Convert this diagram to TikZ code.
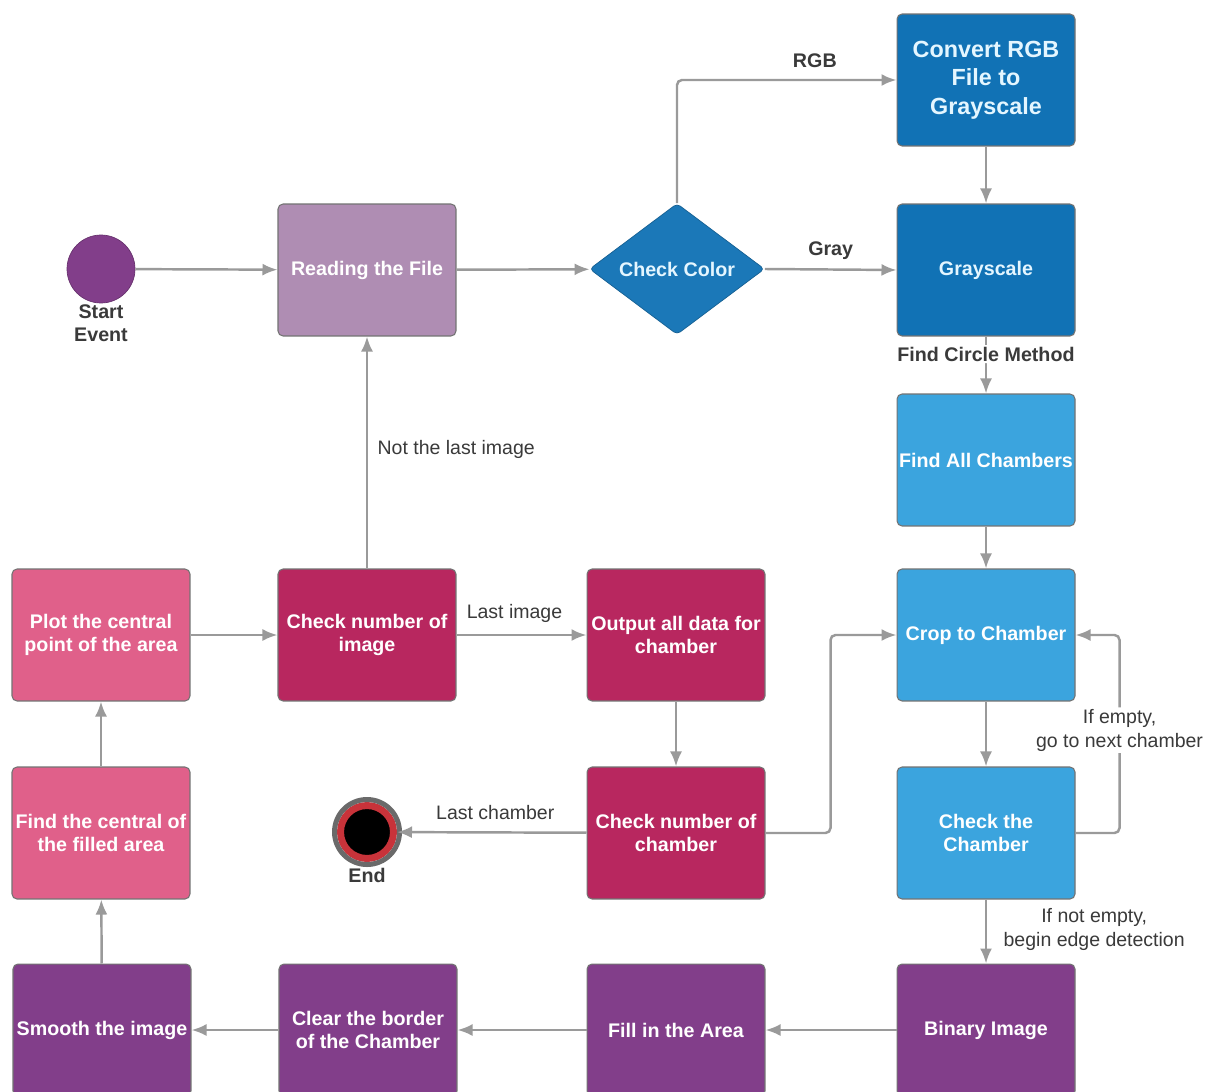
\documentclass[tikz,border=0pt]{standalone}
\usepackage{fontspec}
\setmainfont{Liberation Sans}
\usetikzlibrary{shapes.geometric,arrows.meta}
\definecolor{lilac}{HTML}{AF8DB3}
\definecolor{deepblue}{HTML}{1172B5}
\definecolor{midblue}{HTML}{1B78B8}
\definecolor{skyblue}{HTML}{3BA4DE}
\definecolor{berry}{HTML}{B8275F}
\definecolor{rose}{HTML}{E0608A}
\definecolor{plum}{HTML}{823E8A}
\definecolor{flowgray}{HTML}{9A9A9A}
\definecolor{labelgray}{HTML}{3A3A3A}
\definecolor{endred}{HTML}{C8333A}
\definecolor{ringgray}{HTML}{6A6A6A}
\definecolor{paletext}{HTML}{E4F6FF}
\tikzset{
  stepbox/.style={rectangle, rounded corners=0.1cm, draw=black!55, line width=0.6pt,
    minimum width=3.56cm, minimum height=2.64cm, inner sep=1pt, align=center,
    text=white, font=\fontsize{11.2}{13.4}\selectfont\bfseries},
  flow/.style={draw=flowgray, line width=1.4pt, -{Latex[length=0.3cm,width=0.24cm]}, rounded corners=0.1cm},
  edgelabel/.style={text=labelgray, font=\fontsize{11.1}{13.6}\selectfont, align=center},
  boldlabel/.style={text=labelgray, font=\fontsize{11.2}{13.4}\selectfont\bfseries, align=center},
}
\begin{document}
\begin{tikzpicture}[x=0.02cm,y=-0.02cm]
    \clip (0,0) rectangle (1219,1091);
    \fill[white] (0,0) rectangle (1219,1091);
    %% start and end events
    \node[circle, fill=plum, draw=plum!80!black, minimum size=1.36cm, inner sep=0pt] (start) at (101,269) {};
    \node[boldlabel] (starttext) at (101,323) {Start\\Event};
    \node[circle, fill=black, draw=endred, line width=0.14cm, minimum size=1.06cm, inner sep=0pt] (end) at (367,832) {};
    \draw[ringgray, line width=0.1cm] (end.center) circle (32.5);
    \node[boldlabel] (endtext) at (367,875) {End};
    %% top row
    \node[stepbox, fill=lilac] (read) at (367,270) {Reading the File};
    \node[diamond, fill=midblue, draw=midblue!80!black, rounded corners=0.08cm, minimum width=3.5cm, minimum height=2.62cm,
        inner sep=0pt, text=paletext, font=\fontsize{11.2}{13.4}\selectfont\bfseries] (color) at (677,269) {Check Color};
    \node[stepbox, fill=deepblue, text=paletext, font=\fontsize{13.3}{16.2}\selectfont\bfseries] (convert) at (986,80) {Convert RGB\\File to\\Grayscale};
    \node[stepbox, fill=deepblue, text=paletext] (gray) at (986,270) {Grayscale};
    %% right column
    \node[stepbox, fill=skyblue] (findall) at (986,460) {Find All Chambers};
    \node[stepbox, fill=skyblue] (crop) at (986,635) {Crop to Chamber};
    \node[stepbox, fill=skyblue] (checkch) at (986,833) {Check the\\Chamber};
    %% bottom row
    \node[stepbox, fill=plum] (binary) at (986,1030) {Binary Image};
    \node[stepbox, fill=plum] (fill) at (676,1030) {Fill in the Area};
    \node[stepbox, fill=plum] (clear) at (368,1030) {Clear the border\\of the Chamber};
    \node[stepbox, fill=plum] (smooth) at (102,1030) {Smooth the image};
    %% left and middle
    \node[stepbox, fill=rose] (findc) at (101,833) {Find the central of\\the filled area};
    \node[stepbox, fill=rose] (plot) at (101,635) {Plot the central\\point of the area};
    \node[stepbox, fill=berry] (checkimg) at (367,635) {Check number of\\image};
    \node[stepbox, fill=berry] (output) at (676,635) {Output all data for\\chamber};
    \node[stepbox, fill=berry] (checknum) at (676,833) {Check number of\\chamber};
    %% connectors
    \draw[flow] (start) -- (read);
    \draw[flow] (read) -- (color);
    \draw[flow] (color.north) |- (convert.west) node[boldlabel, pos=0.814, above=3pt] {RGB};
    \draw[flow] (color.east) -- (gray.west) node[boldlabel, midway, above=1.5pt] {Gray};
    \draw[flow] (convert) -- (gray);
    \draw[flow] (gray) -- (findall) node[boldlabel, pos=0.31, fill=white, inner sep=1pt] {Find Circle Method};
    \draw[flow] (findall) -- (crop);
    \draw[flow] (crop) -- (checkch);
    \draw[flow] (checkch.east) -- ++(44,0) |- (crop.east) node[edgelabel, pos=0.26, fill=white, inner sep=1pt] {If empty,\\go to next chamber};
    \draw[flow] (checkch) -- (binary) node[edgelabel, pos=0.47, anchor=west, xshift=6pt] {If not empty,\\begin edge detection};
    \draw[flow] (binary) -- (fill);
    \draw[flow] (fill) -- (clear);
    \draw[flow] (clear) -- (smooth);
    \draw[flow] (smooth) -- (findc);
    \draw[flow] (findc) -- (plot);
    \draw[flow] (plot) -- (checkimg);
    \draw[flow] (checkimg) -- (read) node[edgelabel, pos=0.515, right=2pt] {Not the last image};
    \draw[flow] (checkimg) -- (output) node[edgelabel, midway, above=3pt, xshift=-4pt] {Last image};
    \draw[flow] (output) -- (checknum);
    \draw[flow] (checknum) -- (end) node[edgelabel, midway, above=3pt, xshift=2pt] {Last chamber};
    \draw[flow] (checknum.east) -- ++(65,0) |- (crop.west);
\end{tikzpicture}
\end{document}
